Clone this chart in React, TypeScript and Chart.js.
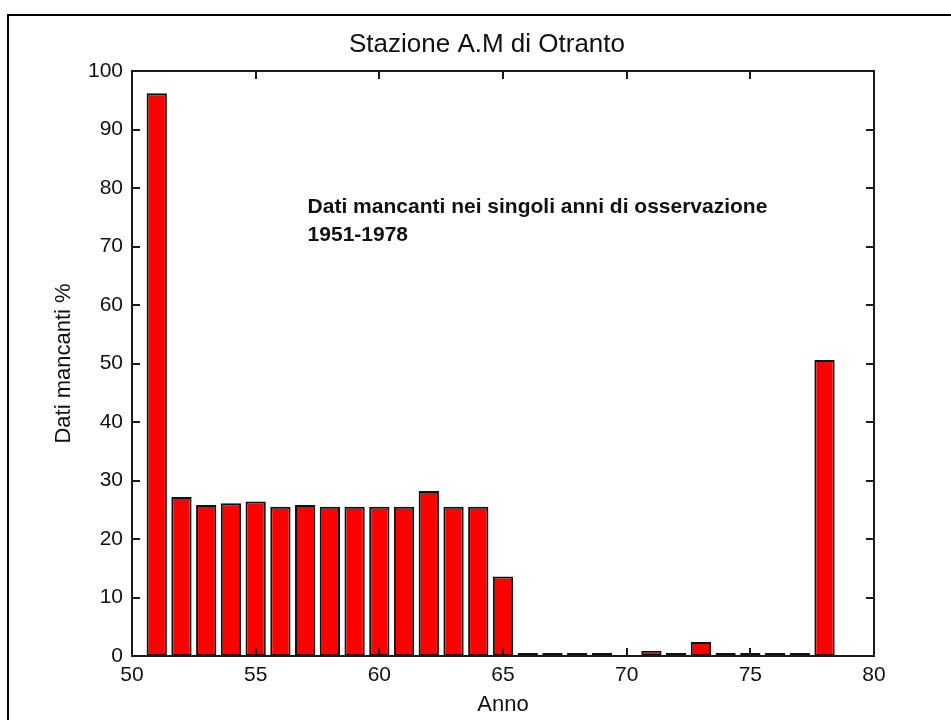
import React, { useEffect, useRef } from "react";
import { Chart, registerables } from "chart.js";

Chart.register(...registerables);

// ---- data ----
const years = [51, 52, 53, 54, 55, 56, 57, 58, 59, 60, 61, 62, 63, 64, 65, 66, 67, 68, 69, 70, 71, 72, 73, 74, 75, 76, 77, 78];
const missingPct = [96.2, 27.2, 25.8, 26.1, 26.4, 25.5, 25.8, 25.5, 25.5, 25.5, 25.5, 28.2, 25.5, 25.5, 13.6, 0.5, 0.5, 0.5, 0.5, 0, 0.9, 0.5, 2.4, 0.5, 0.5, 0.5, 0.5, 50.6];

const xRange = [50, 80];
const xStep = 5;
const yRange = [0, 100];
const yStep = 10;

const titleText = "Stazione A.M di Otranto";
const xLabel = "Anno";
const yLabel = "Dati mancanti %";
const noteLines = ["Dati mancanti nei singoli anni di osservazione", "1951-1978"];
const notePos = [57.1, 75.7]; // data coords of first line baseline start

const FONT = '"Liberation Sans", Arial, Helvetica, sans-serif';
const INK = "#111111";

const decorPlugin = {
  id: "decor",
  beforeDraw(chart: any) {
    const ctx = chart.ctx;
    ctx.save();
    ctx.fillStyle = "#ffffff";
    ctx.fillRect(0, 0, chart.width, chart.height);
    // outer figure frame (top and left edges visible)
    ctx.strokeStyle = "#000000";
    ctx.lineWidth = 2;
    ctx.beginPath();
    ctx.moveTo(8, chart.height);
    ctx.lineTo(8, 15);
    ctx.lineTo(chart.width, 15);
    ctx.stroke();
    ctx.restore();
  },
  afterDatasetsDraw(chart: any) {
    const ctx = chart.ctx;
    const { left, right, top, bottom } = chart.chartArea;
    const xs = chart.scales.x;
    const ys = chart.scales.y;
    const tl = 8;
    ctx.save();
    ctx.strokeStyle = "#1a1a1a";
    ctx.lineWidth = 2;
    ctx.strokeRect(left, top, right - left, bottom - top);
    ctx.lineWidth = 2;
    ctx.beginPath();
    xs.ticks.forEach((t: any) => {
      const px = Math.round(xs.getPixelForValue(t.value));
      ctx.moveTo(px, bottom);
      ctx.lineTo(px, bottom - tl);
      ctx.moveTo(px, top);
      ctx.lineTo(px, top + tl);
    });
    ys.ticks.forEach((t: any) => {
      const py = Math.round(ys.getPixelForValue(t.value));
      ctx.moveTo(left, py);
      ctx.lineTo(left + tl, py);
      ctx.moveTo(right, py);
      ctx.lineTo(right - tl, py);
    });
    ctx.stroke();
    ctx.restore();
  },
  afterDraw(chart: any) {
    const ctx = chart.ctx;
    const xs = chart.scales.x;
    const ys = chart.scales.y;
    ctx.save();
    ctx.fillStyle = INK;
    ctx.textBaseline = "alphabetic";
    // title
    ctx.font = `26px ${FONT}`;
    ctx.textAlign = "center";
    ctx.fillText(titleText, 487, 52);
    // annotation
    ctx.font = `bold 21px ${FONT}`;
    ctx.textAlign = "left";
    const nx = xs.getPixelForValue(notePos[0]);
    const ny = ys.getPixelForValue(notePos[1]);
    noteLines.forEach((line, i) => {
      ctx.fillText(line, nx, ny + i * 28);
    });
    ctx.restore();
  },
};

export default function App() {
  const canvasRef = useRef<HTMLCanvasElement | null>(null);

  useEffect(() => {
    const canvas = canvasRef.current;
    if (!canvas) return;
    const chart = new Chart(canvas, {
      type: "bar",
      data: {
        datasets: [
          {
            label: "Dati mancanti",
            data: years.map((y, i) => ({ x: y, y: missingPct[i] })),
            backgroundColor: "#ff0000",
            borderColor: "#111111",
            borderWidth: 2,
            borderSkipped: false,
            barPercentage: 0.82,
            categoryPercentage: 1,
          },
        ],
      },
      options: {
        animation: false,
        responsive: false,
        devicePixelRatio: 1,
        layout: { padding: { top: 71, right: 77, left: 0, bottom: 0 } },
        plugins: {
          legend: { display: false },
          title: { display: false },
          tooltip: { enabled: false },
        },
        scales: {
          x: {
            type: "linear",
            min: xRange[0],
            max: xRange[1],
            offset: false,
            grid: { display: false, drawOnChartArea: false, drawTicks: false, offset: false },
            border: { display: false },
            ticks: {
              stepSize: xStep,
              padding: 7,
              color: INK,
              font: { family: FONT, size: 21 },
              maxRotation: 0,
              autoSkip: false,
            },
            title: {
              display: true,
              text: xLabel,
              color: INK,
              font: { family: FONT, size: 22 },
              padding: { top: 0, bottom: 2 },
            },
            afterFit(scale: any) {
              scale.height = 64;
            },
          },
          y: {
            type: "linear",
            min: yRange[0],
            max: yRange[1],
            grid: { display: false, drawOnChartArea: false, drawTicks: false },
            border: { display: false },
            ticks: {
              stepSize: yStep,
              padding: 9,
              color: INK,
              font: { family: FONT, size: 21 },
            },
            title: {
              display: true,
              text: yLabel,
              color: INK,
              font: { family: FONT, size: 22 },
              padding: { top: 51, bottom: 0 },
            },
            afterFit(scale: any) {
              scale.width = 132;
            },
          },
        },
      },
      plugins: [decorPlugin],
    } as any);
    return () => chart.destroy();
  }, []);

  return (
    <div style={{ position: "absolute", left: 0, top: 0, width: 951, height: 720 }}>
      <canvas ref={canvasRef} width={951} height={720} style={{ display: "block" }} />
    </div>
  );
}
